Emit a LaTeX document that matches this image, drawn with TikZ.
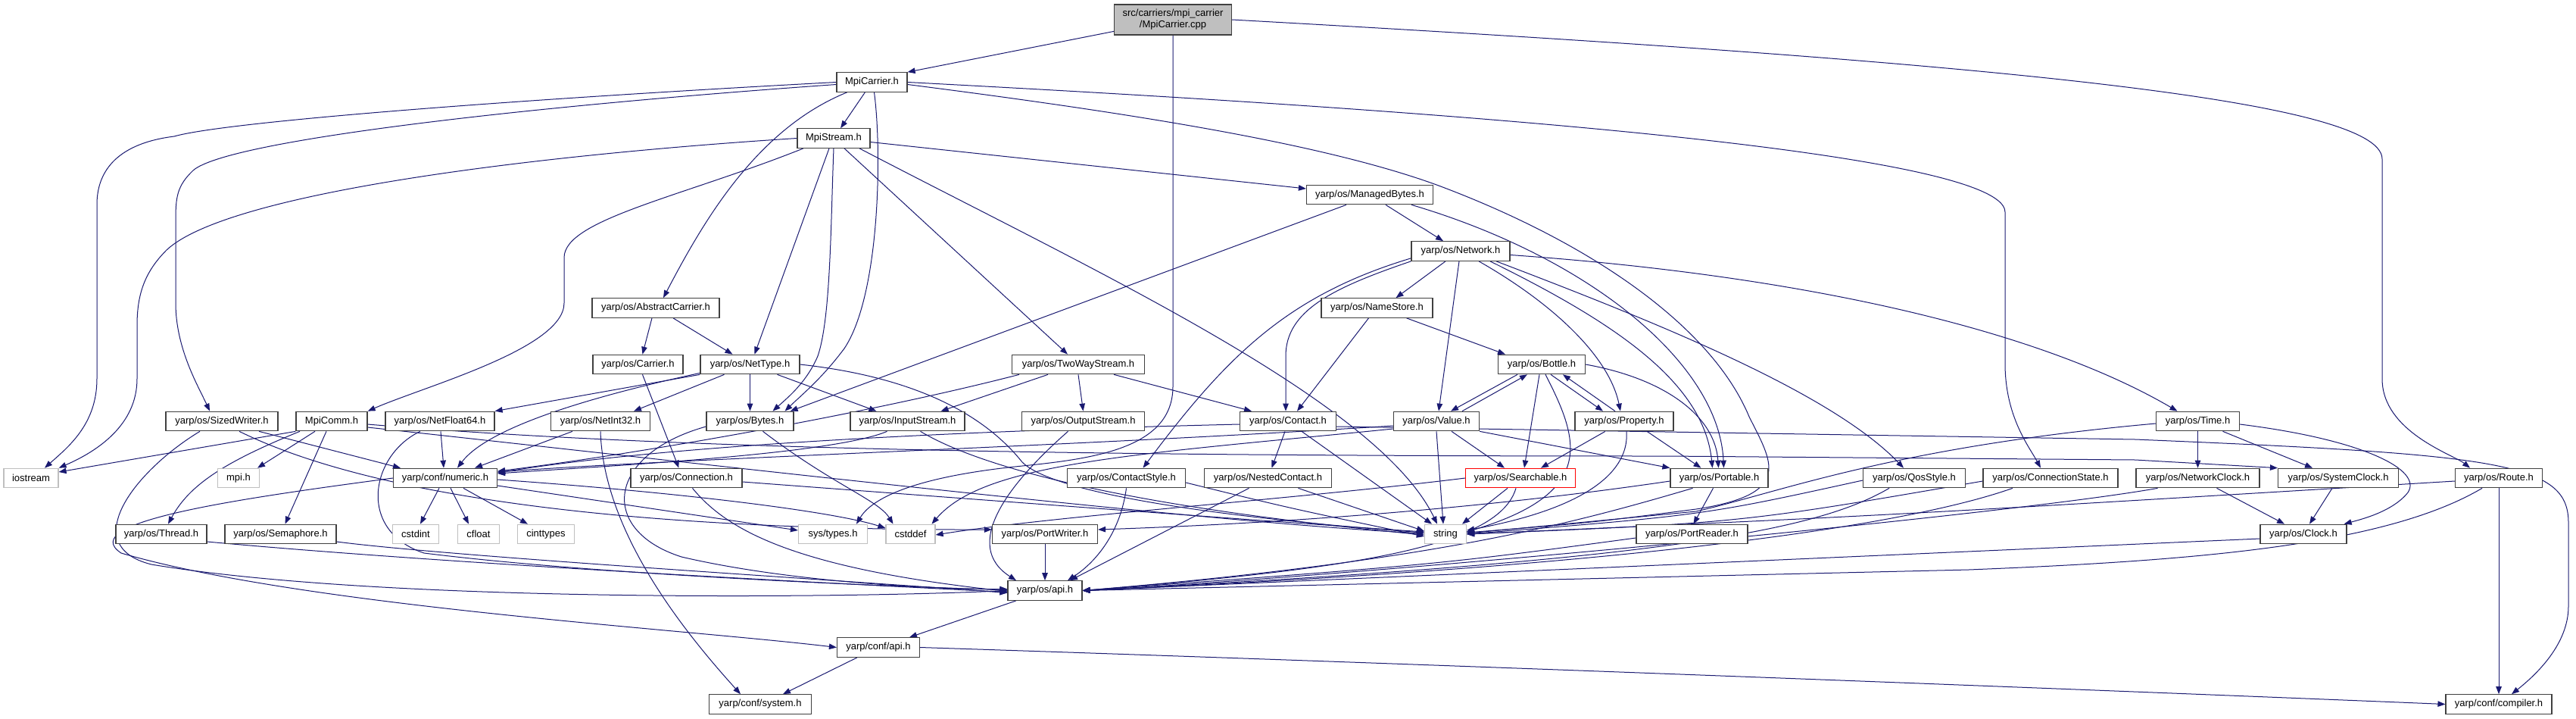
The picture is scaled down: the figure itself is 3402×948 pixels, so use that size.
\documentclass[tikz,border=0pt]{standalone}
\usepackage{fontspec}
\setmainfont{Liberation Sans}
\usetikzlibrary{arrows.meta}
\definecolor{eblue}{RGB}{25,25,112}
\definecolor{gborder}{RGB}{191,191,191}
\definecolor{nborder}{RGB}{64,64,64}
\pgfdeclarelayer{edgelayer}
\pgfsetlayers{edgelayer,main}
\begin{document}
\begin{tikzpicture}[x=1pt,y=-1pt,
  nd/.style={draw=nborder, line width=1.2pt, fill=white, minimum height=25.5pt, inner sep=0pt,
    font=\fontsize{13}{15}\selectfont, text=black},
  gr/.style={nd, draw=gborder},
  rd/.style={nd, draw=red},
  rootst/.style={nd, fill=gborder, minimum height=40pt, align=center},
  e/.style={draw=eblue, line width=1pt, -{Triangle[length=10pt,width=7.5pt]}},
]
\useasboundingbox (0,0) rectangle (3402,948);
% nodes
\node[rootst, minimum width=155pt] (root) at (1549,26) {src/carriers/mpi\_carrier\\/MpiCarrier.cpp};
\node[nd, minimum width=93pt]  (mch)  at (1151.5,108.5) {MpiCarrier.h};
\node[nd, minimum width=96pt]  (msh)  at (1101,182.5) {MpiStream.h};
\node[nd, minimum width=167pt] (mbh)  at (1809,257) {yarp/os/ManagedBytes.h};
\node[nd, minimum width=130pt] (net)  at (1929,331.5) {yarp/os/Network.h};
\node[nd, minimum width=147pt] (nsh)  at (1818.5,406.5) {yarp/os/NameStore.h};
\node[nd, minimum width=168pt] (abs)  at (866,406.5) {yarp/os/AbstractCarrier.h};
\node[nd, minimum width=115pt] (bot)  at (2036,481) {yarp/os/Bottle.h};
\node[nd, minimum width=119pt] (car)  at (842.5,481) {yarp/os/Carrier.h};
\node[nd, minimum width=131pt] (nty)  at (990.5,481) {yarp/os/NetType.h};
\node[nd, minimum width=175pt] (tws)  at (1424,481) {yarp/os/TwoWayStream.h};
\node[nd, minimum width=148pt] (szw)  at (293,556) {yarp/os/SizedWriter.h};
\node[nd, minimum width=94pt]  (mcm)  at (438,556) {MpiComm.h};
\node[nd, minimum width=144pt] (nf64) at (581,556) {yarp/os/NetFloat64.h};
\node[nd, minimum width=131pt] (ni32) at (793,556) {yarp/os/NetInt32.h};
\node[nd, minimum width=115pt] (byt)  at (990.5,556) {yarp/os/Bytes.h};
\node[nd, minimum width=151pt] (ins)  at (1198.5,556) {yarp/os/InputStream.h};
\node[nd, minimum width=162pt] (ous)  at (1430.5,556) {yarp/os/OutputStream.h};
\node[nd, minimum width=127pt] (con)  at (1701,556) {yarp/os/Contact.h};
\node[nd, minimum width=113pt] (val)  at (1897,556) {yarp/os/Value.h};
\node[nd, minimum width=130pt] (prp)  at (2145,556) {yarp/os/Property.h};
\node[nd, minimum width=110pt] (tim)  at (2902.5,556) {yarp/os/Time.h};
\node[gr, minimum width=72pt]  (ios)  at (41,631) {iostream};
\node[gr, minimum width=55pt]  (mpi)  at (315,631) {mpi.h};
\node[nd, minimum width=137pt] (num)  at (588,631) {yarp/conf/numeric.h};
\node[nd, minimum width=147pt] (cnn)  at (906.5,631) {yarp/os/Connection.h};
\node[nd, minimum width=156pt] (cst)  at (1487.5,631) {yarp/os/ContactStyle.h};
\node[nd, minimum width=168pt] (nct)  at (1674.5,631) {yarp/os/NestedContact.h};
\node[rd, minimum width=145pt] (src)  at (2008,631) {yarp/os/Searchable.h};
\node[nd, minimum width=129pt] (prt)  at (2270.5,631) {yarp/os/Portable.h};
\node[nd, minimum width=135pt] (qos)  at (2528,631) {yarp/os/QosStyle.h};
\node[nd, minimum width=178pt] (cns)  at (2708,631) {yarp/os/ConnectionState.h};
\node[nd, minimum width=163pt] (ncl)  at (2902.5,631) {yarp/os/NetworkClock.h};
\node[nd, minimum width=159pt] (scl)  at (3088,631) {yarp/os/SystemClock.h};
\node[nd, minimum width=115pt] (rte)  at (3300,631) {yarp/os/Route.h};
\node[nd, minimum width=120pt] (thr)  at (213,705) {yarp/os/Thread.h};
\node[nd, minimum width=147pt] (sem)  at (370.5,705) {yarp/os/Semaphore.h};
\node[gr, minimum width=61pt]  (cint) at (549,705) {cstdint};
\node[gr, minimum width=55pt]  (cflt) at (632,705) {cfloat};
\node[gr, minimum width=75pt]  (cinty) at (721,705) {cinttypes};
\node[gr, minimum width=91pt]  (syst) at (1100,705) {sys/types.h};
\node[gr, minimum width=65pt]  (cdef) at (1202.5,705) {cstddef};
\node[nd, minimum width=139pt] (pwr)  at (1380,705) {yarp/os/PortWriter.h};
\node[gr, minimum width=55pt]  (str)  at (1909,705) {string};
\node[nd, minimum width=147pt] (prd)  at (2234.5,705) {yarp/os/PortReader.h};
\node[nd, minimum width=114pt] (clk)  at (3042,705) {yarp/os/Clock.h};
\node[nd, minimum width=98pt]  (api)  at (1380,779.5) {yarp/os/api.h};
\node[nd, minimum width=109pt] (capi) at (1160,854.5) {yarp/conf/api.h};
\node[nd, minimum width=135pt] (sysh) at (1004,929.5) {yarp/conf/system.h};
\node[nd, minimum width=140pt] (cmp)  at (3300,929.5) {yarp/conf/compiler.h};
% ---------------- edges (behind nodes) ----------------
\begin{pgfonlayer}{edgelayer}
% root
\draw[e] (root) -- (mch.north east);
\draw[e] (root.east) .. controls (2600,80) and (3146,130) .. (3146,210) -- (3146,500) .. controls (3146,570) and (3240,600) .. ([xshift=-38pt]rte.north);
\draw[e] (root.south) -- (1549,510) .. controls (1549,590) and (1450,605) .. (1350,615) .. controls (1200,630) and (1150,660) .. ([xshift=31pt]syst.north);
% MpiCarrier.h
\draw[e] (mch) -- (msh);
\draw[e] (mch) .. controls (1000,170) and (930,290) .. ([xshift=10pt]abs.north);
\draw[e] ([xshift=3pt]mch.south) .. controls (1165,200) and (1162,390) .. (1115,460) .. controls (1085,500) and (1060,520) .. ([xshift=46pt]byt.north);
\draw[e] (mch.west) .. controls (700,130) and (300,160) .. (230,180) .. controls (150,190) and (128,230) .. (128,270) -- (128,500) .. controls (128,560) and (90,590) .. ([xshift=18pt]ios.north);
\draw[e] ([yshift=-3pt]mch.west) .. controls (700,140) and (300,185) .. (255,225) .. controls (234,245) and (232,260) .. (232,290) -- (232,400) .. controls (232,460) and (262,510) .. ([xshift=-16pt]szw.north);
\draw[e] (mch.east) .. controls (1700,135) and (2648,190) .. (2648,280) -- (2648,480) .. controls (2648,550) and (2680,590) .. ([xshift=-13pt]cns.north);
\draw[e] ([yshift=-3pt]mch.east) .. controls (1500,150) and (1750,190) .. (1900,245) .. controls (2100,320) and (2260,430) .. (2310,550) .. controls (2340,610) and (2370,652) .. (2240,672) .. controls (2100,690) .. ([yshift=2pt]str.east);
% MpiStream.h
\draw[e] (msh.west) .. controls (700,205) and (300,255) .. (220,330) .. controls (190,360) and (181,390) .. (181,430) -- (181,500) .. controls (181,560) and (130,595) .. (ios.north east);
\draw[e] ([xshift=-40pt]msh.south) .. controls (900,260) and (745,290) .. (745,340) -- (745,400) .. controls (745,460) and (560,510) .. (mcm.north east);
\draw[e] ([xshift=-6pt]msh.south) -- ([xshift=6pt]nty.north);
\draw[e] (msh.south) .. controls (1097,300) and (1097,420) .. (1080,470) .. controls (1065,505) and (1040,525) .. ([xshift=30pt]byt.north);
\draw[e] ([xshift=14pt]msh.south) -- ([xshift=-14pt]tws.north);
\draw[e] ([yshift=-5pt]msh.east) -- ([yshift=8pt]mbh.west);
\draw[e] ([xshift=34pt]msh.south) .. controls (1450,360) and (1820,530) .. ([xshift=-11pt]str.north);
% AbstractCarrier, Carrier
\draw[e] ([xshift=-5pt]abs.south) -- ([xshift=6pt]car.north);
\draw[e] ([xshift=23pt]abs.south) -- ([xshift=-23pt]nty.north);
\draw[e] ([xshift=6pt]car.south) -- ([xshift=-10pt]cnn.north);
% ManagedBytes
\draw[e] ([xshift=21pt]mbh.south) -- ([xshift=-23pt]net.north);
\draw[e] ([xshift=-31pt]mbh.south) -- ([xshift=-5pt]byt.north east);
\draw[e] ([xshift=55pt]mbh.south) .. controls (2100,340) and (2270,480) .. ([xshift=6pt]prt.north);
% Network
\draw[e] ([xshift=-20pt]net.south) -- ([xshift=25pt]nsh.north);
\draw[e] ([xshift=-2pt]net.south) -- ([xshift=3pt]val.north);
\draw[e] (net.south west) .. controls (1760,380) and (1698,410) .. (1698,470) -- ([xshift=-3pt]con.north);
\draw[e] ([yshift=4pt]net.south west) .. controls (1700,390) and (1620,470) .. ([xshift=22pt]cst.north);
\draw[e] ([xshift=24pt]net.south) .. controls (2050,400) and (2125,470) .. ([xshift=-5pt]prp.north);
\draw[e] ([xshift=39pt]net.south) .. controls (2120,420) and (2250,500) .. ([xshift=-9pt]prt.north);
\draw[e] ([xshift=47pt]net.south) .. controls (2200,430) and (2420,520) .. ([xshift=-14pt]qos.north);
\draw[e] ([yshift=-5pt]net.east) .. controls (2400,365) and (2700,440) .. ([xshift=-27pt]tim.north);
% NameStore
\draw[e] ([xshift=-11pt]nsh.south) -- ([xshift=12pt]con.north);
\draw[e] ([xshift=39pt]nsh.south) -- ([xshift=-48pt]bot.north);
% Bottle
\draw[e] ([xshift=-32pt]bot.south) -- ([xshift=19pt]val.north);
\draw[e] ([xshift=34pt]val.north) -- ([xshift=-19pt]bot.south);
\draw[e] ([xshift=-3pt]bot.south) -- ([xshift=5pt]src.north);
\draw[e] ([xshift=5pt]bot.south) .. controls (2085,580) and (2110,650) .. ([yshift=3pt]str.east);
\draw[e] ([xshift=12pt]bot.south) -- ([xshift=-28pt]prp.north);
\draw[e] ([xshift=-12pt]prp.north) -- ([xshift=28pt]bot.south);
\draw[e] (bot.east) .. controls (2200,500) and (2265,550) .. ([xshift=-1pt]prt.north);
% Value
\draw[e] ([xshift=20pt]val.south) -- ([xshift=-21pt]src.north);
\draw[e] (val.south) -- ([xshift=-3pt]str.north);
\draw[e] (val.south east) -- (prt.north west);
\draw[e] ([yshift=-6pt]val.west) .. controls (1400,590) and (900,605) .. ([yshift=8pt]num.east);
\draw[e] ([yshift=-10pt]val.west) .. controls (1500,600) and (1300,610) .. ([xshift=28pt]cdef.north);
% Contact
\draw[e] ([xshift=-4pt]con.south) -- ([xshift=5pt]nct.north);
\draw[e] ([xshift=18pt]con.south) -- ([xshift=-18pt]str.north);
\draw[e] ([yshift=-7pt]con.east) -- (2820,580) .. controls (3300,600) and (3392,610) .. (3392,690) -- (3392,800) .. controls (3392,850) and (3350,890) .. ([xshift=17pt]cmp.north);
\draw[e] ([yshift=-4pt]con.west) .. controls (1300,568) and (900,585) .. ([yshift=7pt]num.east);
% TwoWayStream
\draw[e] ([xshift=-40pt]tws.south) -- ([xshift=44pt]ins.north);
\draw[e] (tws.south) -- (ous.north);
\draw[e] ([xshift=47pt]tws.south) -- ([xshift=-48pt]con.north);
\draw[e] ([xshift=-78pt]tws.south) .. controls (1150,545) and (850,598) .. ([yshift=9pt]num.east);
% NetType
\draw[e] (nty.south west) -- (nf64.north east);
\draw[e] ([yshift=2pt]nty.south west) .. controls (750,530) and (640,570) .. ([xshift=16pt]num.north);
\draw[e] ([xshift=-34pt]nty.south) -- ([xshift=44pt]ni32.north);
\draw[e] (nty.south) -- (byt.north);
\draw[e] ([xshift=36pt]nty.south) -- ([xshift=-41pt]ins.north);
\draw[e] (nty.east) .. controls (1230,500) and (1310,560) .. (1350,610) .. controls (1400,660) and (1700,690) .. ([yshift=2pt]str.west);
% Bytes
\draw[e] ([xshift=17pt]byt.south) .. controls (1100,640) and (1160,660) .. ([xshift=-23pt]cdef.north);
\draw[e] ([yshift=-7pt]byt.west) .. controls (800,600) and (790,700) .. (900,735) .. controls (1050,770) and (1250,778) .. ([yshift=2pt]api.west);
% InputStream / OutputStream
\draw[e] ([xshift=-27pt]ins.south) .. controls (1100,600) and (800,615) .. ([yshift=6pt]num.east);
\draw[e] ([xshift=17pt]ins.south) .. controls (1300,620) and (1500,670) .. ([yshift=-1pt]str.west);
\draw[e] ([xshift=-20pt]ous.south) .. controls (1330,640) and (1270,720) .. ([xshift=-38pt]api.north);
% Lower
\draw[e] (pwr.south) -- (api.north);
\draw[e] (cst.south) .. controls (1480,700) and (1450,740) .. ([xshift=30pt]api.north);
\draw[e] ([yshift=-6pt]cst.east) .. controls (1700,670) .. ([yshift=-3pt]str.west);
\draw[e] ([xshift=-25pt]nct.south) -- ([xshift=33pt]api.north);
\draw[e] ([xshift=40pt]nct.south) -- ([yshift=4pt]str.west);
\draw[e] ([xshift=-17pt]src.south) -- ([xshift=22pt]str.north);
\draw[e] ([xshift=-6pt]src.south) .. controls (1980,720) and (1800,750) .. (api.east);
\draw[e] (src.west) .. controls (1700,660) and (1400,680) .. ([yshift=-1pt]cdef.east);
\draw[e] ([xshift=-25pt]prp.south) -- ([xshift=27pt]src.north);
\draw[e] ([xshift=3pt]prp.south) .. controls (2152,620) and (2100,670) .. ([yshift=5pt]str.east);
\draw[e] ([xshift=30pt]prp.south) -- ([xshift=-24pt]prt.north);
\draw[e] ([xshift=-8pt]prt.south) -- ([xshift=2pt]prd.north);
\draw[e] ([yshift=-4pt]prt.west) .. controls (1900,680) and (1600,694) .. ([yshift=6pt]pwr.east);
\draw[e] ([xshift=-35pt]prt.south) .. controls (2080,690) and (1900,740) .. (api.east);
\draw[e] ([yshift=-5pt]prd.west) .. controls (1900,745) .. (api.east);
\draw[e] ([xshift=-33pt]qos.south) .. controls (2400,700) and (2200,740) .. (api.east);
\draw[e] ([yshift=-3pt]qos.west) .. controls (2250,680) .. (str.east);
\draw[e] ([xshift=-50pt]cns.south) .. controls (2500,700) and (2100,750) .. (api.east);
\draw[e] ([yshift=-4pt]cns.west) .. controls (2300,690) .. (str.east);
% Time & clocks
\draw[e] (tim.south) -- (ncl.north);
\draw[e] ([xshift=33pt]tim.south) -- ([xshift=-34pt]scl.north);
\draw[e] ([yshift=-4pt]tim.east) .. controls (3120,580) and (3200,620) .. (3180,650) .. controls (3160,675) and (3120,685) .. ([xshift=-4pt]clk.north east);
\draw[e] ([yshift=-3pt]tim.west) .. controls (2500,590) and (2350,650) .. (2240,675) -- ([yshift=1pt]str.east);
\draw[e] ([xshift=25pt]ncl.south) -- ([xshift=-25pt]clk.north);
\draw[e] ([xshift=-53pt]ncl.south) .. controls (2650,680) and (1800,760) .. (api.east);
\draw[e] ([xshift=-8pt]scl.south) -- ([xshift=8pt]clk.north);
\draw[e] ([yshift=-6pt]clk.west) -- (api.east);
\draw[e] (rte.south) -- (cmp.north);
\draw[e] ([yshift=-4pt]rte.west) .. controls (2500,680) .. (str.east);
\draw[e] ([xshift=-22pt]rte.south) .. controls (3150,720) and (2900,740) .. (2600,752) -- (api.east);
% api chain
\draw[e] ([xshift=-38pt]api.south) -- ([xshift=41pt]capi.north);
\draw[e] ([xshift=-28pt]capi.south) -- ([xshift=30pt]sysh.north);
\draw[e] (capi.east) .. controls (2000,880) and (3000,920) .. (cmp.west);
% MpiComm
\draw[e] (mcm.south west) -- ([yshift=8pt]ios.east);
\draw[e] ([xshift=-22pt]mcm.south) -- ([xshift=25pt]mpi.north);
\draw[e] ([xshift=-42pt]mcm.south) .. controls (296,610) and (250,640) .. ([xshift=9pt]thr.north);
\draw[e] ([xshift=-7pt]mcm.south) -- ([xshift=6pt]sem.north);
\draw[e] ([yshift=-4pt]mcm.east) .. controls (900,595) and (1500,602) .. (2200,602) -- (2820,607) -- (scl.north west);
\draw[e] ([yshift=-8pt]mcm.east) .. controls (1000,620) and (1600,690) .. ([yshift=1pt]str.west);
% SizedWriter
\draw[e] ([xshift=49pt]szw.south) -- ([xshift=-59pt]num.north);
\draw[e] ([xshift=23pt]szw.south) .. controls (480,650) and (800,700) .. ([yshift=6pt]pwr.west);
\draw[e] ([xshift=-29pt]szw.south) .. controls (180,620) and (100,720) .. (200,745) .. controls (500,795) and (1100,790) .. (api.west);
% numeric
\draw[e] ([xshift=-8pt]num.south) -- ([xshift=6pt]cint.north);
\draw[e] ([xshift=7pt]num.south) -- ([xshift=-13pt]cflt.north);
\draw[e] ([xshift=24pt]num.south) -- ([xshift=-24pt]cinty.north);
\draw[e] ([yshift=-10pt]num.east) -- ([yshift=5pt]syst.west);
\draw[e] ([yshift=-2pt]num.east) .. controls (900,650) and (1100,675) .. ([yshift=8pt]cdef.west);
\draw[e] (num.west) .. controls (300,660) and (100,690) .. (160,730) .. controls (400,800) and (900,830) .. (capi.west);
% NetFloat64, NetInt32, Connection, Thread, Semaphore
\draw[e] ([xshift=1pt]nf64.south) -- ([xshift=-2pt]num.north);
\draw[e] ([xshift=-26pt]nf64.south) .. controls (490,600) and (470,700) .. (560,730) .. controls (800,760) and (1200,775) .. ([yshift=1pt]api.west);
\draw[e] ([xshift=-37pt]ni32.south) -- ([xshift=39pt]num.north);
\draw[e] (ni32.south) .. controls (797,700) and (900,830) .. ([xshift=-26pt]sysh.north);
\draw[e] ([xshift=8pt]cnn.south) .. controls (960,700) and (1050,750) .. ([yshift=-1pt]api.west);
\draw[e] ([yshift=-5pt]cnn.east) .. controls (1300,660) and (1700,690) .. ([yshift=3pt]str.west);
\draw[e] ([yshift=-10pt]thr.east) .. controls (600,745) and (1100,770) .. ([yshift=-2pt]api.west);
\draw[e] ([yshift=-10pt]sem.east) .. controls (600,735) and (1100,765) .. ([yshift=-3pt]api.west);
\end{pgfonlayer}
\end{tikzpicture}
\end{document}
